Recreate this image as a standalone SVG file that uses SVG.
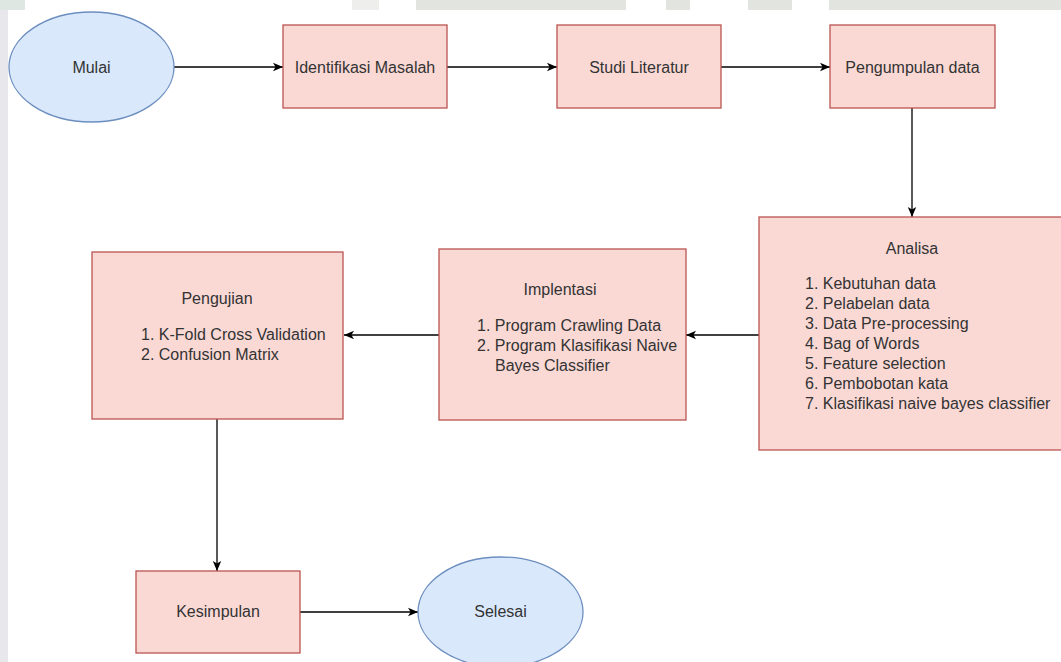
<svg xmlns="http://www.w3.org/2000/svg" width="1061" height="662" viewBox="0 0 1061 662">
  <style>
    .bg { fill: #ffffff; }
    .wm { fill: #e2e4e0; }
    .side { fill: #e8e8ec; }
    .proc { fill: #fad9d5; stroke: #b85450; stroke-width: 1.3; }
    .term { fill: #dae8fc; stroke: #6c8ebf; stroke-width: 1.3; }
    .lbl { font-family: "Liberation Sans", Arial, sans-serif; font-size: 16px; fill: #333333; }
    .mid { text-anchor: middle; }
    .edge { fill: none; stroke: #000000; stroke-width: 1.3; marker-end: url(#arrow); }
  </style>
  <defs>
    <marker id="arrow" viewBox="0 0 10 10" refX="10" refY="5" markerWidth="10" markerHeight="10" markerUnits="userSpaceOnUse" orient="auto">
      <path d="M0,0.8 L10,5 L0,9.2 L2.6,5 Z" fill="#000000"/>
    </marker>
  </defs>

  <rect class="bg" x="0" y="0" width="1061" height="662"/>
  <g id="background">
    <rect class="side" x="0" y="10" width="8" height="652"/>
    <rect class="wm" x="352" y="0" width="27" height="10" opacity="0.6"/>
    <rect class="wm" x="416" y="0" width="210" height="10"/>
    <rect class="wm" x="666" y="0" width="24" height="10"/>
    <rect class="wm" x="748" y="0" width="44" height="10"/>
    <rect class="wm" x="829" y="0" width="232" height="10"/>
    <rect x="0" y="0" width="25" height="10" fill="#dfe7e2"/>
  </g>

  <g id="connectors">
    <line class="edge" x1="174" y1="67" x2="283" y2="67"/>
    <line class="edge" x1="447" y1="67" x2="557" y2="67"/>
    <line class="edge" x1="721" y1="67" x2="830" y2="67"/>
    <line class="edge" x1="912" y1="108" x2="912" y2="217"/>
    <line class="edge" x1="759" y1="335" x2="686" y2="335"/>
    <line class="edge" x1="439" y1="335" x2="344" y2="335"/>
    <line class="edge" x1="217" y1="419" x2="217" y2="571"/>
    <line class="edge" x1="300" y1="612" x2="418" y2="612"/>
  </g>

  <g id="mulai">
    <ellipse class="term" cx="91.5" cy="67" rx="82.5" ry="55"/>
    <text class="lbl mid" x="91.5" y="72.5">Mulai</text>
  </g>

  <g id="identifikasi">
    <rect class="proc" x="283" y="25" width="164" height="83"/>
    <text class="lbl mid" x="365" y="72.5">Identifikasi Masalah</text>
  </g>

  <g id="studi">
    <rect class="proc" x="557" y="25" width="164" height="83"/>
    <text class="lbl mid" x="639" y="72.5">Studi Literatur</text>
  </g>

  <g id="pengumpulan">
    <rect class="proc" x="830" y="25" width="165" height="83"/>
    <text class="lbl mid" x="912.5" y="72.5">Pengumpulan data</text>
  </g>

  <g id="analisa">
    <rect class="proc" x="759" y="217" width="310" height="233"/>
    <text class="lbl mid" x="912" y="254">Analisa</text>
    <text class="lbl" x="805" y="289">1. Kebutuhan data</text>
    <text class="lbl" x="805" y="309">2. Pelabelan data</text>
    <text class="lbl" x="805" y="329">3. Data Pre-processing</text>
    <text class="lbl" x="805" y="349">4. Bag of Words</text>
    <text class="lbl" x="805" y="369">5. Feature selection</text>
    <text class="lbl" x="805" y="389">6. Pembobotan kata</text>
    <text class="lbl" x="805" y="409">7. Klasifikasi naive bayes classifier</text>
  </g>

  <g id="implentasi">
    <rect class="proc" x="439" y="249" width="247" height="171"/>
    <text class="lbl mid" x="560" y="295">Implentasi</text>
    <text class="lbl" x="477" y="331">1. Program Crawling Data</text>
    <text class="lbl" x="477" y="351">2. Program Klasifikasi Naive</text>
    <text class="lbl" x="495" y="371">Bayes Classifier</text>
  </g>

  <g id="pengujian">
    <rect class="proc" x="92" y="252" width="251" height="167"/>
    <text class="lbl mid" x="217" y="304">Pengujian</text>
    <text class="lbl" x="141" y="340">1. K-Fold Cross Validation</text>
    <text class="lbl" x="141" y="360">2. Confusion Matrix</text>
  </g>

  <g id="kesimpulan">
    <rect class="proc" x="136" y="571" width="164" height="82"/>
    <text class="lbl mid" x="218" y="617">Kesimpulan</text>
  </g>

  <g id="selesai">
    <ellipse class="term" cx="500.5" cy="612" rx="82.5" ry="55"/>
    <text class="lbl mid" x="500.5" y="617">Selesai</text>
  </g>
</svg>
